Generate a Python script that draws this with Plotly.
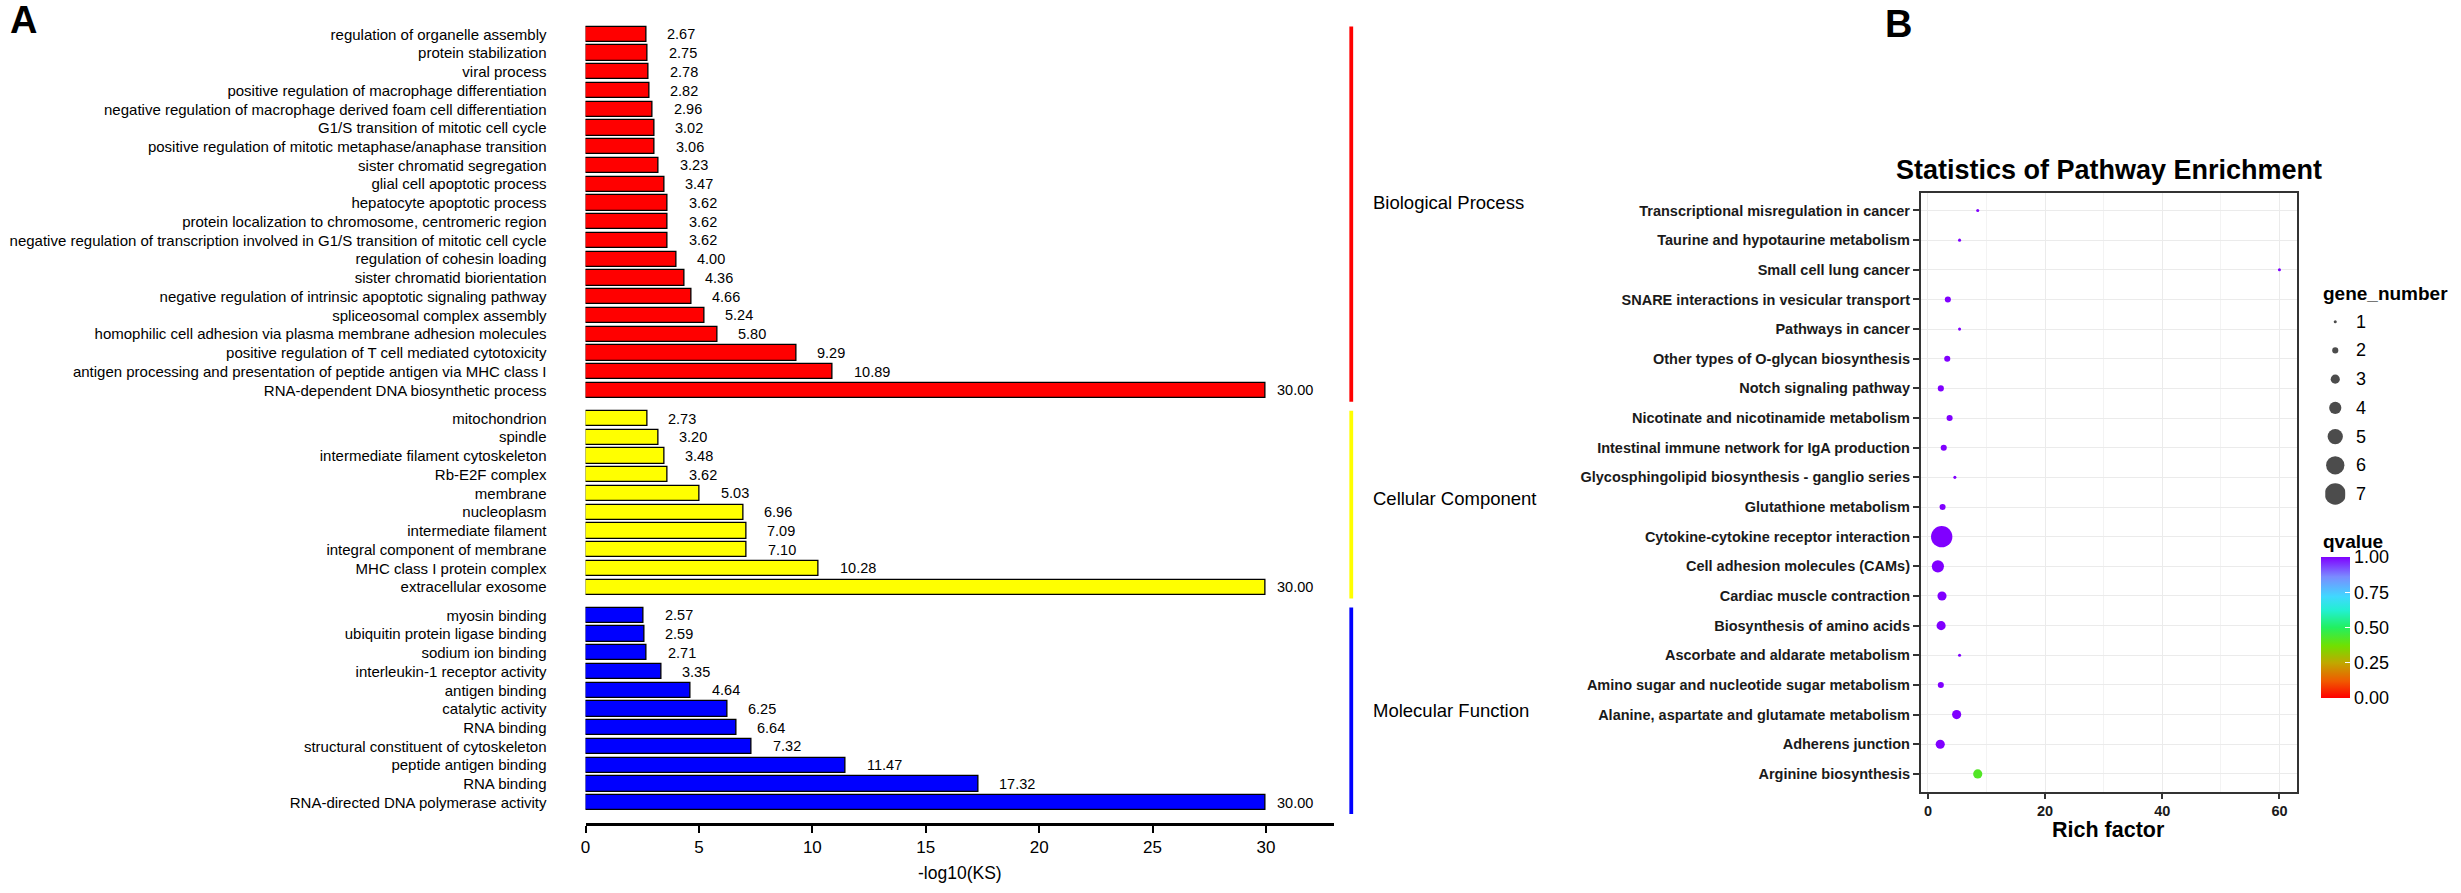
import plotly.graph_objects as go

W, H = 2461, 893
FONT = "Liberation Sans, Arial, sans-serif"

# ---------------- Panel A data ----------------
bp_terms = [
    "regulation of organelle assembly", "protein stabilization", "viral process",
    "positive regulation of macrophage differentiation",
    "negative regulation of macrophage derived foam cell differentiation",
    "G1/S transition of mitotic cell cycle",
    "positive regulation of mitotic metaphase/anaphase transition",
    "sister chromatid segregation", "glial cell apoptotic process",
    "hepatocyte apoptotic process",
    "protein localization to chromosome, centromeric region",
    "negative regulation of transcription involved in G1/S transition of mitotic cell cycle",
    "regulation of cohesin loading", "sister chromatid biorientation",
    "negative regulation of intrinsic apoptotic signaling pathway",
    "spliceosomal complex assembly",
    "homophilic cell adhesion via plasma membrane adhesion molecules",
    "positive regulation of T cell mediated cytotoxicity",
    "antigen processing and presentation of peptide antigen via MHC class I",
    "RNA-dependent DNA biosynthetic process",
]
bp_values = [2.67, 2.75, 2.78, 2.82, 2.96, 3.02, 3.06, 3.23, 3.47, 3.62, 3.62, 3.62,
             4.00, 4.36, 4.66, 5.24, 5.80, 9.29, 10.89, 30.00]

cc_terms = [
    "mitochondrion", "spindle", "intermediate filament cytoskeleton", "Rb-E2F complex",
    "membrane", "nucleoplasm", "intermediate filament", "integral component of membrane",
    "MHC class I protein complex", "extracellular exosome",
]
cc_values = [2.73, 3.20, 3.48, 3.62, 5.03, 6.96, 7.09, 7.10, 10.28, 30.00]

mf_terms = [
    "myosin binding", "ubiquitin protein ligase binding", "sodium ion binding",
    "interleukin-1 receptor activity", "antigen binding", "catalytic activity",
    "RNA binding", "structural constituent of cytoskeleton", "peptide antigen binding",
    "RNA binding", "RNA-directed DNA polymerase activity",
]
mf_values = [2.57, 2.59, 2.71, 3.35, 4.64, 6.25, 6.64, 7.32, 11.47, 17.32, 30.00]

group_names = ["Biological Process", "Cellular Component", "Molecular Function"]
group_colors = ["#ff0000", "#ffff00", "#0000ff"]
a_ticks = [0, 5, 10, 15, 20, 25, 30]

# ---------------- Panel B data ----------------
pathways = [
    "Transcriptional misregulation in cancer", "Taurine and hypotaurine metabolism",
    "Small cell lung cancer", "SNARE interactions in vesicular transport",
    "Pathways in cancer", "Other types of O-glycan biosynthesis",
    "Notch signaling pathway", "Nicotinate and nicotinamide metabolism",
    "Intestinal immune network for IgA production",
    "Glycosphingolipid biosynthesis - ganglio series", "Glutathione metabolism",
    "Cytokine-cytokine receptor interaction", "Cell adhesion molecules (CAMs)",
    "Cardiac muscle contraction", "Biosynthesis of amino acids",
    "Ascorbate and aldarate metabolism", "Amino sugar and nucleotide sugar metabolism",
    "Alanine, aspartate and glutamate metabolism", "Adherens junction",
    "Arginine biosynthesis",
]
rich_factor = [8.5, 5.4, 60.0, 3.4, 5.4, 3.3, 2.2, 3.7, 2.7, 4.6, 2.5, 2.35, 1.7,
               2.4, 2.25, 5.4, 2.2, 4.9, 2.1, 8.5]
gene_number = [1, 1, 1, 2, 1, 2, 2, 2, 2, 1, 2, 7, 4, 3, 3, 1, 2, 3, 3, 3]
qvalue = [1.0, 1.0, 1.0, 1.0, 1.0, 1.0, 1.0, 1.0, 1.0, 1.0, 1.0, 1.0, 1.0, 1.0,
          1.0, 1.0, 1.0, 1.0, 1.0, 0.42]
legend_genes = [1, 2, 3, 4, 5, 6, 7]
b_xticks = [0, 20, 40, 60]
q_ticks = [0.0, 0.25, 0.5, 0.75, 1.0]

# ---------------- helpers ----------------
def px_x(p):
    return p / W

def px_y(p):
    return 1 - p / H

SIZE_PER_GENE = 3.05
GROUP_LABEL_SHIFT = [10, 4, -2]  # small vertical nudges of group captions (px)

qscale = [
    [0.0, "#ff0000"], [0.12, "#f05a00"], [0.25, "#c0a800"], [0.37, "#70e000"],
    [0.5, "#22f060"], [0.62, "#22f0d0"], [0.72, "#40d8ff"], [0.86, "#7a8cff"],
    [1.0, "#8000ff"],
]

fig = go.Figure()

# ---------------- Panel A: positions computed from group sizes ----------------
groups = [(bp_terms, bp_values), (cc_terms, cc_values), (mf_terms, mf_values)]
GAP = 0.5
positions = []
pos = 0.0
tickvals, ticktext = [], []
for gi, (terms, vals) in enumerate(groups):
    gpos = []
    for t in terms:
        gpos.append(pos)
        tickvals.append(pos)
        ticktext.append(t)
        pos += 1
    positions.append(gpos)
    pos += GAP
last_pos = tickvals[-1]

annotations = []
shapes = []
for gi, (terms, vals) in enumerate(groups):
    fig.add_trace(go.Bar(
        x=vals, y=positions[gi], orientation="h", width=0.816,
        marker=dict(color=group_colors[gi], line=dict(color="black", width=1.3)),
        xaxis="x", yaxis="y", showlegend=False, hoverinfo="x+y",
    ))
    for v, p in zip(vals, positions[gi]):
        annotations.append(dict(
            x=v, y=p, xref="x", yref="y", text=f"{v:.2f}", showarrow=False,
            xanchor="left", yanchor="middle", xshift=9 if v >= 30 else 19,
            font=dict(family=FONT, size=14.5, color="black"),
        ))
    top = positions[gi][0] - 0.41
    bot = positions[gi][-1] + 0.6
    shapes.append(dict(type="line", xref="paper", yref="y", x0=px_x(1349), x1=px_x(1349),
                       y0=top, y1=bot, line=dict(color=group_colors[gi], width=3.8)))
    annotations.append(dict(
        x=px_x(1369), y=(positions[gi][0] + positions[gi][-1]) / 2, xref="paper", yref="y",
        text=group_names[gi], showarrow=False, xanchor="left", yanchor="middle",
        yshift=GROUP_LABEL_SHIFT[gi],
        font=dict(family=FONT, size=18.5, color="black"),
    ))

# axis title A
annotations.append(dict(x=px_x(957), y=px_y(873), xref="paper", yref="paper",
                        text="-log10(KS)", showarrow=False, xanchor="center", yanchor="middle",
                        font=dict(family=FONT, size=17.5, color="black")))
# panel letters
annotations.append(dict(x=px_x(3), y=px_y(20), xref="paper", yref="paper", text="<b>A</b>",
                        showarrow=False, xanchor="left", yanchor="middle",
                        font=dict(family=FONT, size=38, color="black")))
annotations.append(dict(x=px_x(1882), y=px_y(24), xref="paper", yref="paper", text="<b>B</b>",
                        showarrow=False, xanchor="left", yanchor="middle",
                        font=dict(family=FONT, size=38, color="black")))

# ---------------- Panel B ----------------
fig.add_trace(go.Scatter(
    x=rich_factor, y=pathways, mode="markers", xaxis="x2", yaxis="y2", showlegend=False,
    marker=dict(
        size=[SIZE_PER_GENE * g for g in gene_number], sizemode="diameter",
        color=qvalue, colorscale=qscale, cmin=0, cmax=1, line=dict(width=0), opacity=1,
        showscale=True,
        colorbar=dict(
            x=px_x(2320.7), xanchor="left", y=px_y(557), yanchor="top",
            len=141, lenmode="pixels", thickness=29, thicknessmode="pixels",
            outlinewidth=0, xpad=0, ypad=0,
            tickvals=q_ticks, ticktext=[f"{t:.2f}" for t in q_ticks],
            ticks="inside", ticklen=5, tickcolor="white", tickwidth=1,
            tickfont=dict(family=FONT, size=18, color="black"),
        ),
    ),
))

annotations.append(dict(x=px_x(2108), y=px_y(170), xref="paper", yref="paper",
                        text="<b>Statistics of Pathway Enrichment</b>", showarrow=False,
                        xanchor="center", yanchor="middle",
                        font=dict(family=FONT, size=27, color="black")))
annotations.append(dict(x=px_x(2108), y=px_y(830), xref="paper", yref="paper",
                        text="<b>Rich factor</b>", showarrow=False,
                        xanchor="center", yanchor="middle",
                        font=dict(family=FONT, size=21.5, color="black")))

# size legend (own hidden axes)
fig.add_trace(go.Scatter(
    x=[0] * len(legend_genes), y=legend_genes, mode="markers", xaxis="x3", yaxis="y3",
    showlegend=False, hoverinfo="skip",
    marker=dict(size=[SIZE_PER_GENE * g for g in legend_genes], color="black", line=dict(width=0)),
))
for g in legend_genes:
    annotations.append(dict(x=px_x(2354), y=g, xref="paper", yref="y3", text=str(g),
                            showarrow=False, xanchor="left", yanchor="middle",
                            font=dict(family=FONT, size=18, color="black")))
annotations.append(dict(x=px_x(2320.7), y=px_y(293), xref="paper", yref="paper",
                        text="<b>gene_number</b>", showarrow=False, xanchor="left",
                        yanchor="middle", font=dict(family=FONT, size=19, color="black")))
annotations.append(dict(x=px_x(2320.7), y=px_y(541.7), xref="paper", yref="paper",
                        text="<b>qvalue</b>", showarrow=False, xanchor="left",
                        yanchor="middle", font=dict(family=FONT, size=19, color="black")))

fig.update_layout(
    width=W, height=H, margin=dict(l=0, r=0, t=0, b=0),
    paper_bgcolor="white", plot_bgcolor="rgba(0,0,0,0)",
    font=dict(family=FONT, color="black"),
    bargap=0, annotations=annotations, shapes=shapes,
    xaxis=dict(
        domain=[px_x(581.7), px_x(1331.7)], range=[0, 33], tickvals=a_ticks,
        showline=True, linewidth=3, linecolor="black", ticks="outside", ticklen=7,
        tickwidth=2, tickcolor="black", showgrid=False, zeroline=False,
        tickfont=dict(family=FONT, size=17, color="black"), anchor="y",
    ),
    yaxis=dict(
        domain=[px_y(822.7), px_y(19)],
        range=[last_pos + 1.067, -0.816], tickvals=tickvals, ticktext=ticktext,
        ticks="outside", ticklen=35, tickcolor="rgba(0,0,0,0)", showline=False,
        showgrid=False, zeroline=False, anchor="x",
        tickfont=dict(family=FONT, size=15, color="black"),
    ),
    xaxis2=dict(
        domain=[px_x(1919.8), px_x(2296.4)], range=[-1.2, 62.95], tickvals=b_xticks,
        showline=True, mirror=True, linewidth=2, linecolor="#333333",
        ticks="outside", ticklen=5, tickwidth=1.5, tickcolor="#333333",
        showgrid=True, gridcolor="#ebebeb", gridwidth=1.3, zeroline=False,
        minor=dict(tickvals=[10, 30, 50], showgrid=True, gridcolor="#f3f3f3", gridwidth=0.8),
        tickfont=dict(family=FONT, size=14.5, color="#1a1a1a", weight="bold"), anchor="y2",
    ),
    yaxis2=dict(
        domain=[px_y(791.7), px_y(192.7)], type="category",
        categoryorder="array", categoryarray=pathways, range=[len(pathways) - 0.4, -0.6],
        showline=True, mirror=True, linewidth=2, linecolor="#333333",
        ticks="outside", ticklen=6, tickwidth=1.5, tickcolor="#333333",
        showgrid=True, gridcolor="#ebebeb", gridwidth=1.3, zeroline=False,
        tickfont=dict(family=FONT, size=14.5, color="#1a1a1a", weight="bold"), anchor="x2",
    ),
    xaxis3=dict(domain=[px_x(2325), px_x(2345)], range=[-1, 1], visible=False, anchor="y3"),
    yaxis3=dict(domain=[px_y(508.35), px_y(307.35)], range=[7.5, 0.5], visible=False,
                anchor="x3"),
)

fig.write_html("out.html", include_plotlyjs=True, full_html=True,
               config={"displayModeBar": False},
               post_script="document.body.style.margin='0';document.body.style.overflow='hidden';")
